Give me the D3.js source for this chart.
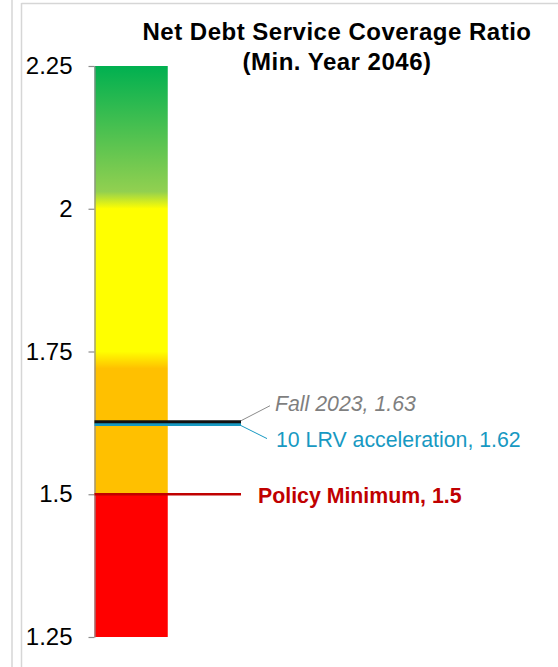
<!DOCTYPE html>
<html>
<head>
<meta charset="utf-8">
<script src="https://cdn.jsdelivr.net/npm/d3@7"></script>
<style>
  body { margin: 0; background: #fff; }
  svg { display: block; font-family: "Liberation Sans", Arial, sans-serif; }
</style>
</head>
<body>
<svg id="chart" width="558" height="667"></svg>
<script>
// axis ticks
const tickValues = [2.25, 2, 1.75, 1.5, 1.25];
const tickLabels = ["2.25", "2", "1.75", "1.5", "1.25"];

// coloured zones of the bar (value -> colour, top to bottom)
const zoneValues = [2.25, 2.03, 2.0, 1.75, 1.72, 1.5, 1.5, 1.25];
const zoneColors = ["#00B050", "#92D050", "#FFFF00", "#FFFF00", "#FFC000", "#FFC000", "#FF0000", "#FF0000"];

// reference lines
const lineNames = ["10 LRV acceleration", "Fall 2023", "Policy Minimum"];
const lineValues = [1.622, 1.627, 1.5];
const lineLabels = ["10 LRV acceleration, 1.62", "Fall 2023, 1.63", "Policy Minimum, 1.5"];

const svg = d3.select("#chart");

// panel borders
svg.append("line").attr("x1", 12).attr("x2", 12).attr("y1", 0).attr("y2", 667)
  .attr("stroke", "#d6d6d6").attr("stroke-width", 1.5);
svg.append("line").attr("x1", 21.5).attr("x2", 21.5).attr("y1", 3).attr("y2", 667)
  .attr("stroke", "#d6d6d6").attr("stroke-width", 1.5);
svg.append("line").attr("x1", 21.5).attr("x2", 558).attr("y1", 3.5).attr("y2", 3.5)
  .attr("stroke", "#d6d6d6").attr("stroke-width", 1.5);

const y = d3.scaleLinear().domain([1.25, 2.25]).range([637, 66]);
const x = d3.scaleLinear().domain([0, 2]).range([94.5, 241]);

// gradient for the bar
const grad = svg.append("defs").append("linearGradient")
  .attr("id", "zones")
  .attr("gradientUnits", "userSpaceOnUse")
  .attr("x1", 0).attr("x2", 0)
  .attr("y1", y(2.25)).attr("y2", y(1.25));

grad.selectAll("stop")
  .data(zoneValues)
  .enter()
  .append("stop")
  .attr("offset", (d) => (y(d) - y(2.25)) / (y(1.25) - y(2.25)))
  .attr("stop-color", (d, i) => zoneColors[i]);

svg.append("rect")
  .attr("x", x(0))
  .attr("y", y(2.25))
  .attr("width", x(1) - x(0))
  .attr("height", y(1.25) - y(2.25))
  .attr("fill", "url(#zones)");

// y axis
const axis = svg.append("g")
  .attr("transform", `translate(${x(0)},0)`)
  .call(
    d3.axisLeft(y)
      .tickValues(tickValues)
      .tickFormat((d, i) => tickLabels[i])
      .tickSize(6)
      .tickSizeOuter(0)
      .tickPadding(16)
  );
axis.select(".domain").attr("stroke", "#8c8c8c").attr("stroke-width", 1.2);
axis.selectAll(".tick line").attr("stroke", "#8c8c8c").attr("stroke-width", 1.2);
axis.selectAll(".tick text")
  .attr("fill", "#000")
  .style("font-size", "24px")
  .style("font-family", '"Liberation Sans", Arial, sans-serif');

// reference lines
const lineColors = ["#1799c2", "#111111", "#c00000"];
const lineWidths = [3, 3, 2.5];

svg.selectAll(".ref")
  .data(lineValues)
  .enter()
  .append("line")
  .attr("class", "ref")
  .attr("x1", x(0))
  .attr("x2", x(2))
  .attr("y1", (d) => y(d))
  .attr("y2", (d) => y(d))
  .attr("stroke", (d, i) => lineColors[i])
  .attr("stroke-width", (d, i) => lineWidths[i]);

// leader lines for the two close labels
svg.append("line")
  .attr("x1", x(2)).attr("y1", y(lineValues[1]) - 1)
  .attr("x2", x(2) + 29).attr("y2", y(lineValues[1]) - 16)
  .attr("stroke", "#8c8c8c").attr("stroke-width", 1);
svg.append("line")
  .attr("x1", x(2)).attr("y1", y(lineValues[0]) + 1)
  .attr("x2", x(2) + 26).attr("y2", y(lineValues[0]) + 14)
  .attr("stroke", "#1799c2").attr("stroke-width", 1);

// labels
svg.append("text")
  .attr("x", 275).attr("y", 411)
  .attr("fill", "#7f7f7f")
  .style("font-size", "21.3px")
  .style("font-style", "italic")
  .text(lineLabels[1]);

svg.append("text")
  .attr("x", 276).attr("y", 446.5)
  .attr("fill", "#1799c2")
  .style("font-size", "21.3px")
  .text(lineLabels[0]);

svg.append("text")
  .attr("x", 258).attr("y", y(lineValues[2]) + 8.5)
  .attr("fill", "#c00000")
  .style("font-size", "21.3px")
  .style("font-weight", "bold")
  .text(lineLabels[2]);

// title
const title = svg.append("text")
  .attr("text-anchor", "middle")
  .style("font-size", "24px")
  .style("font-weight", "bold")
  .style("letter-spacing", "0.5px")
  .attr("fill", "#000");
title.append("tspan").attr("x", 337).attr("y", 39.5).text("Net Debt Service Coverage Ratio");
title.append("tspan").attr("x", 337).attr("y", 70).text("(Min. Year 2046)");
</script>
</body>
</html>
